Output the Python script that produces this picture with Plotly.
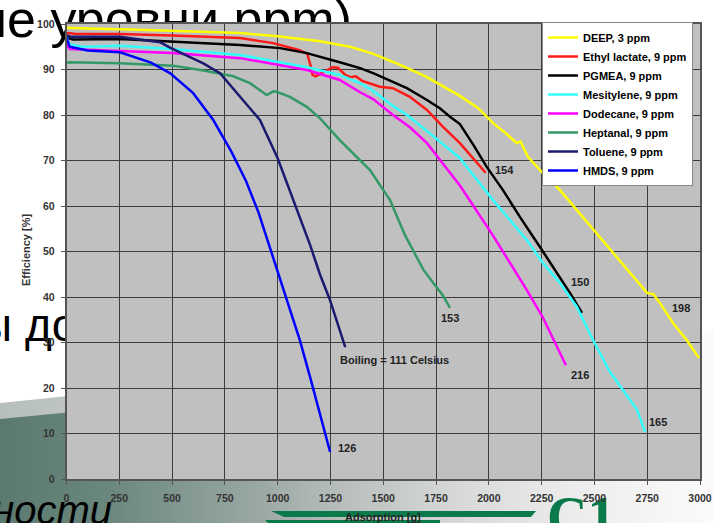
import plotly.graph_objects as go

W, H = 714, 523

# ---------------- data ----------------
names = ["DEEP, 3 ppm", "Ethyl lactate, 9 ppm", "PGMEA, 9 ppm", "Mesitylene, 9 ppm",
         "Dodecane, 9 ppm", "Heptanal, 9 ppm", "Toluene, 9 ppm", "HMDS, 9 ppm"]

deep_x = [0, 100, 300, 500, 700, 822, 1000, 1200, 1343, 1450, 1580, 1700, 1863, 1950, 2020,
          2080, 2133, 2150, 2185, 2256, 2337, 2417, 2494, 2574, 2654, 2700, 2749, 2780, 2810,
          2872, 2938, 2995]
deep_y = [99.2, 99.0, 98.8, 98.5, 98.3, 98.0, 97.3, 96.2, 95.0, 93.5, 91.0, 88.5, 84.2, 81.5,
          78.2, 76.0, 73.8, 74.2, 70.8, 67.2, 63.5, 59.1, 54.7, 50.3, 45.9, 43.5, 40.9, 40.6,
          38.7, 34.3, 30.5, 26.6]

ethyl_x = [0, 50, 250, 500, 822, 979, 1100, 1140, 1155, 1165, 1180, 1215, 1260, 1285, 1320,
           1345, 1370, 1400, 1440, 1484, 1546, 1626, 1707, 1783, 1863, 1934, 1985]
ethyl_y = [98.0, 97.8, 97.8, 97.5, 96.9, 95.8, 94.3, 93.5, 91.0, 88.8, 88.5, 89.3, 90.5, 90.4,
           88.8, 88.3, 88.5, 87.5, 86.8, 86.2, 85.9, 84.0, 81.1, 77.4, 73.8, 70.1, 67.3]

pgmea_x = [0, 30, 253, 500, 822, 1011, 1138, 1294, 1390, 1452, 1546, 1612, 1707, 1768, 1816,
           1863, 1926, 1990, 2067, 2147, 2242, 2322, 2384, 2441]
pgmea_y = [97.0, 96.6, 96.7, 96.2, 95.4, 94.7, 93.6, 91.6, 90.3, 89.2, 87.3, 85.9, 83.3, 81.5,
           79.6, 78.0, 73.5, 68.6, 63.5, 57.6, 51.0, 45.3, 40.9, 36.5]

mesit_x = [0, 15, 80, 253, 500, 822, 1138, 1294, 1390, 1452, 1546, 1612, 1707, 1863, 2020,
           2180, 2256, 2337, 2417, 2494, 2574, 2636, 2702, 2740]
mesit_y = [97.0, 95.5, 95.0, 95.2, 94.5, 93.2, 90.5, 88.8, 87.0, 85.3, 82.0, 80.0, 76.5, 70.5,
           61.3, 52.5, 47.5, 43.1, 37.8, 30.5, 23.5, 19.6, 15.2, 10.3]

dodec_x = [0, 15, 126, 500, 822, 1138, 1294, 1390, 1452, 1546, 1626, 1707, 1863, 2020, 2180,
           2256, 2365]
dodec_y = [95.5, 94.5, 94.3, 93.6, 92.5, 89.9, 87.7, 85.0, 83.5, 80.0, 77.3, 73.8, 64.5, 53.5,
           41.5, 35.5, 25.0]

hept_x = [0, 17, 253, 505, 650, 790, 869, 916, 948, 979, 995, 1058, 1138, 1200, 1294, 1437,
          1532, 1603, 1642, 1690, 1737, 1780, 1816]
hept_y = [91.5, 91.6, 91.4, 90.8, 89.8, 88.5, 87.0, 85.5, 84.4, 85.2, 85.1, 84.0, 81.8, 79.3,
          74.5, 67.9, 61.3, 53.6, 50.3, 46.0, 43.1, 40.5, 37.6]

tol_x = [0, 20, 253, 443, 490, 570, 650, 727, 822, 916, 1000, 1080, 1153, 1200, 1248, 1320]
tol_y = [97.5, 97.2, 97.2, 96.0, 94.8, 93.0, 91.3, 89.2, 84.0, 78.9, 70.5, 60.5, 51.5, 45.0,
         39.3, 29.0]

hmds_x = [0, 15, 100, 253, 400, 490, 600, 695, 780, 850, 910, 963, 1035, 1105, 1153, 1200, 1248]
hmds_y = [97.0, 95.0, 94.2, 93.8, 91.5, 89.2, 84.8, 78.9, 72.0, 65.5, 58.5, 51.0, 40.5, 30.5,
          22.5, 14.3, 6.0]

series_x = [deep_x, ethyl_x, pgmea_x, mesit_x, dodec_x, hept_x, tol_x, hmds_x]
series_y = [deep_y, ethyl_y, pgmea_y, mesit_y, dodec_y, hept_y, tol_y, hmds_y]
colors = ["#ffff00", "#ff1a1a", "#000000", "#33ffff", "#ff00ff", "#339966", "#1a1a70", "#0000ff"]

end_labels = ["154", "150", "198", "153", "216", "165", "126", "Boiling = 111 Celsius"]
end_label_x = [2076, 2431, 2910, 1815, 2431, 2800, 1328, 1555]
end_label_y = [67.9, 43.3, 37.6, 35.4, 22.9, 12.5, 6.8, 26.1]

x_ticks = list(range(0, 3001, 250))
y_ticks = list(range(0, 101, 10))

fig = go.Figure()

# ---------------- slide background (pixel-coordinate subplot underneath) ----------------
bg = dict(xaxis="x", yaxis="y", showlegend=False, hoverinfo="skip")
fig.add_trace(go.Scatter(x=[0, W, W, 0, 0], y=[0, 0, H, H, 0], fill="toself", fillcolor="white",
                         mode="lines", line=dict(width=0), **bg))
fig.add_trace(go.Scatter(x=[0, W, W, 0, 0], y=[403, 330, H, H, 403], fill="toself", mode="lines",
                         line=dict(width=0),
                         fillgradient=dict(type="horizontal", start=0, stop=W,
                                           colorscale=[[0, "#b7bfbc"], [0.5, "#d9dcdb"], [1, "#fbfbfb"]]),
                         **bg))
fig.add_trace(go.Scatter(x=[0, W, W, 0, 0], y=[419, 350, H, H, 419], fill="toself", mode="lines",
                         line=dict(width=0),
                         fillgradient=dict(type="horizontal", start=0, stop=W,
                                           colorscale=[[0, "#5b796f"], [0.15, "#6a877d"], [0.35, "#97a6a1"],
                                                       [0.5, "#bcc2bf"], [0.65, "#d8dad9"], [0.8, "#ececec"],
                                                       [1, "#fbfbfb"]]),
                         **bg))
# logo stripes
fig.add_trace(go.Scatter(x=[271, 536, 531, 284, 271], y=[511, 511, 517, 517, 511], fill="toself",
                         fillcolor="#0b7a4a", mode="lines", line=dict(width=0), **bg))
fig.add_trace(go.Scatter(x=[265, 440, 440, 268, 265], y=[520, 520, H, H, 520], fill="toself",
                         fillcolor="#0b7a4a", mode="lines", line=dict(width=0), **bg))
# slide texts
fig.add_trace(go.Scatter(x=[352], y=[24], mode="text", text=["ие уровни ppm)"], textposition="middle left",
                         textfont=dict(family="Arial", size=52, color="black"), **bg))
fig.add_trace(go.Scatter(x=[12], y=[329], mode="text", text=["ы"], textposition="middle left",
                         textfont=dict(family="Arial", size=46, color="black"), **bg))
fig.add_trace(go.Scatter(x=[25], y=[329], mode="text", text=["до"], textposition="middle right",
                         textfont=dict(family="Arial", size=46, color="black"), **bg))
fig.add_trace(go.Scatter(x=[112], y=[514], mode="text", text=["ности"], textposition="middle left",
                         textfont=dict(family="Arial", size=40, color="black", style="italic"), **bg))
fig.add_trace(go.Scatter(x=[547], y=[522], mode="text", text=["C1"], textposition="middle right",
                         textfont=dict(family="Liberation Serif", size=56, color="#0b7a4a", weight="bold"), **bg))

# ---------------- chart ----------------
for nm, xs, ys, c in zip(names, series_x, series_y, colors):
    fig.add_trace(go.Scatter(x=xs, y=ys, name=nm, mode="lines", xaxis="x2", yaxis="y2",
                             line=dict(color=c, width=2.5), hoverinfo="skip"))

annos = []
for t, ax, ay in zip(end_labels, end_label_x, end_label_y):
    annos.append(dict(x=ax, y=ay, xref="x2", yref="y2", text=t, showarrow=False,
                      font=dict(family="Arial", size=11, color="#222", weight="bold")))
annos.append(dict(x=383 / W, y=1 - 517 / H, xref="paper", yref="paper", text="Adsorption [g]",
                  xanchor="center", yanchor="middle", showarrow=False,
                  font=dict(family="Arial", size=11, color="#222", weight="bold")))
annos.append(dict(x=26 / W, y=1 - 250 / H, xref="paper", yref="paper", text="Efficiency [%]",
                  xanchor="center", yanchor="middle", textangle=-90, showarrow=False,
                  font=dict(family="Arial", size=11, color="#333", weight="bold")))

tickfont = dict(family="Arial", size=10.5, color="#333", weight="bold")
fig.update_layout(
    template="none",
    width=W, height=H, margin=dict(l=0, r=0, t=0, b=0, pad=0, autoexpand=False),
    paper_bgcolor="white", plot_bgcolor="#c0c0c0",
    hovermode=False,
    xaxis=dict(domain=[0, 1], range=[0, W], visible=False, fixedrange=True, automargin=False),
    yaxis=dict(domain=[0, 1], range=[H, 0], visible=False, fixedrange=True, automargin=False),
    xaxis2=dict(domain=[66.5 / W, 700 / W], range=[0, 3000], anchor="y2", automargin=False,
                tickmode="array", tickvals=x_ticks, ticktext=[str(v) for v in x_ticks],
                showgrid=True, gridcolor="#3c3c3c", gridwidth=1, zeroline=False,
                showline=True, linecolor="#555", linewidth=1.5, mirror=True,
                ticks="outside", ticklen=4, tickcolor="#555", tickfont=tickfont,
                ticklabelstandoff=5, fixedrange=True),
    yaxis2=dict(domain=[(H - 479) / H, (H - 24) / H], range=[0, 100], anchor="x2", automargin=False,
                tickmode="array", tickvals=y_ticks, ticktext=[str(v) for v in y_ticks],
                showgrid=True, gridcolor="#3c3c3c", gridwidth=1, zeroline=False,
                showline=True, linecolor="#555", linewidth=1.5, mirror=True,
                ticks="outside", ticklen=4, tickcolor="#555", tickfont=tickfont,
                ticklabelstandoff=4, fixedrange=True),
    legend=dict(x=542 / W, y=1 - 22 / H, xanchor="left", yanchor="top",
                bgcolor="white", bordercolor="#888", borderwidth=1,
                font=dict(family="Arial", size=11, color="black", weight="bold"),
                itemwidth=30, tracegroupgap=0),
    annotations=annos,
)

fig.write_html("out.html", config={"displayModeBar": False},
               post_script="document.body.style.margin='0';document.body.style.overflow='hidden';")
